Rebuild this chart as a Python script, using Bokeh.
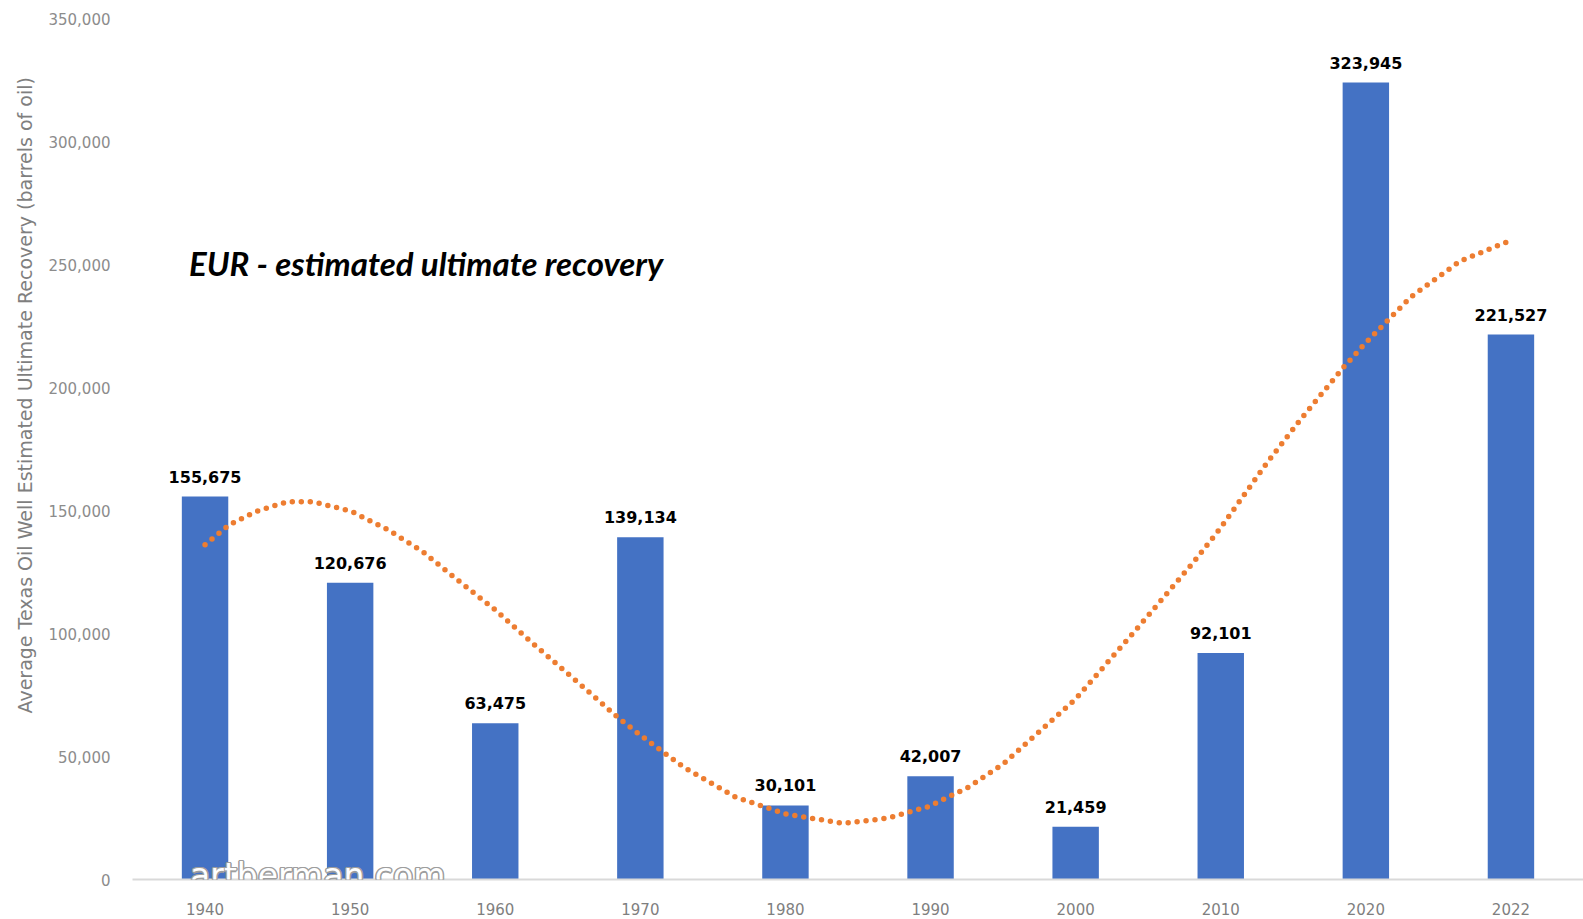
import math
from bokeh.plotting import figure
from bokeh.models import (Range1d, FixedTicker, NumeralTickFormatter, Label, Title,
                          ColumnDataSource)
from bokeh.core.properties import value
from bokeh.embed import file_html
from bokeh.resources import INLINE

# ---- data ----
years = ["1940", "1950", "1960", "1970", "1980", "1990", "2000", "2010", "2020", "2022"]
eur = [155675, 120676, 63475, 139134, 30101, 42007, 21459, 92101, 323945, 221527]
y_ticks = [0, 50000, 100000, 150000, 200000, 250000, 300000, 350000]

# trendline (position in category index, value)
trend_pos = [0.0, 0.17, 0.35, 0.57, 0.74, 0.88, 1.01, 1.26, 1.50, 1.72, 2.0, 2.27, 2.59,
             2.85, 3.0, 3.30, 3.66, 4.01, 4.40, 4.70, 4.99, 5.26, 5.50, 6.0, 6.41, 6.81,
             7.0, 7.32, 7.55, 7.84, 7.99, 8.31, 8.65, 8.99]
trend_val = [136100, 144300, 149600, 153600, 153600, 151600, 149600, 142200, 133300,
             122700, 109600, 95400, 79100, 65600, 58700, 45600, 33400, 26500, 22800,
             24900, 29700, 37500, 46900, 73400, 101100, 128800, 143000, 169500, 187000,
             207800, 217600, 236800, 251400, 259600]

idx = list(range(len(years)))
labels = [f"{v:,}" for v in eur]

p = figure(width=1583, height=919, output_backend="svg", toolbar_location=None,
           x_range=Range1d(-0.5, 9.5), y_range=Range1d(0, 350000),
           min_border_left=132, min_border_right=0, min_border_top=18, min_border_bottom=40)
p.outline_line_color = None
p.xgrid.visible = False
p.ygrid.visible = False
p.background_fill_color = "white"
p.border_fill_color = "white"

src = ColumnDataSource(dict(x=idx, top=eur, lab=labels))
p.vbar(x="x", top="top", width=0.32, source=src, fill_color="#4472C4", line_color=None)

p.line(trend_pos, trend_val, line_color="#ED7D31", line_width=5.5, line_dash="0 9",
       line_cap="round")

p.text(x="x", y="top", text="lab", source=src, text_font=value("DejaVu Sans"),
       text_font_style="bold", text_font_size="16px", text_color="#000000",
       text_align="center", text_baseline="alphabetic", y_offset=-20)

# axes
xa = p.xaxis[0]
xa.ticker = FixedTicker(ticks=idx)
xa.major_label_overrides = {i: y for i, y in zip(idx, years)}
xa.axis_line_color = "#d9d9d9"
xa.axis_line_width = 2
xa.major_tick_line_color = None
xa.minor_tick_line_color = None
xa.major_label_text_font = "DejaVu Sans"
xa.major_label_text_font_size = "15px"
xa.major_label_text_color = "#7f7f7f"
xa.major_label_standoff = 17

ya = p.yaxis[0]
ya.ticker = FixedTicker(ticks=y_ticks)
ya.formatter = NumeralTickFormatter(format="0,0")
ya.axis_line_color = None
ya.major_tick_line_color = None
ya.minor_tick_line_color = None
ya.major_label_text_font = "DejaVu Sans"
ya.major_label_text_font_size = "15px"
ya.major_label_text_color = "#8c8c8c"
ya.major_label_standoff = 16

# y axis title (as a side title so it can sit off-centre like the original)
p.add_layout(Title(text="Average Texas Oil Well Estimated Ultimate Recovery (barrels of oil)",
                   align="left", offset=166, standoff=20,
                   text_font="DejaVu Sans", text_font_style="normal",
                   text_font_size="19px", text_color="#7f7f7f"), "left")

# annotation
p.add_layout(Label(x=-0.11, y=250500, text="EUR - estimated ultimate recovery",
                   text_font="Lato", text_font_style="bold italic", text_font_size="33px",
                   text_color="#000000", text_align="left", text_baseline="alphabetic"))

# watermark (white text with grey outline)
for dx, dy in [(-1.5, 0), (1.5, 0), (0, -1.5), (0, 1.5), (-1, -1), (1, 1), (-1, 1), (1, -1)]:
    p.add_layout(Label(x=-0.103, y=1500, x_offset=dx, y_offset=dy, text="artberman.com",
                       text_font="DejaVu Sans", text_font_size="33px", text_color="#9e9e9e",
                       text_align="left", text_baseline="alphabetic"))
p.add_layout(Label(x=-0.103, y=1500, text="artberman.com",
                   text_font="DejaVu Sans", text_font_size="33px", text_color="#ffffff",
                   text_align="left", text_baseline="alphabetic"))

open("out.html", "w").write(file_html(p, INLINE))
